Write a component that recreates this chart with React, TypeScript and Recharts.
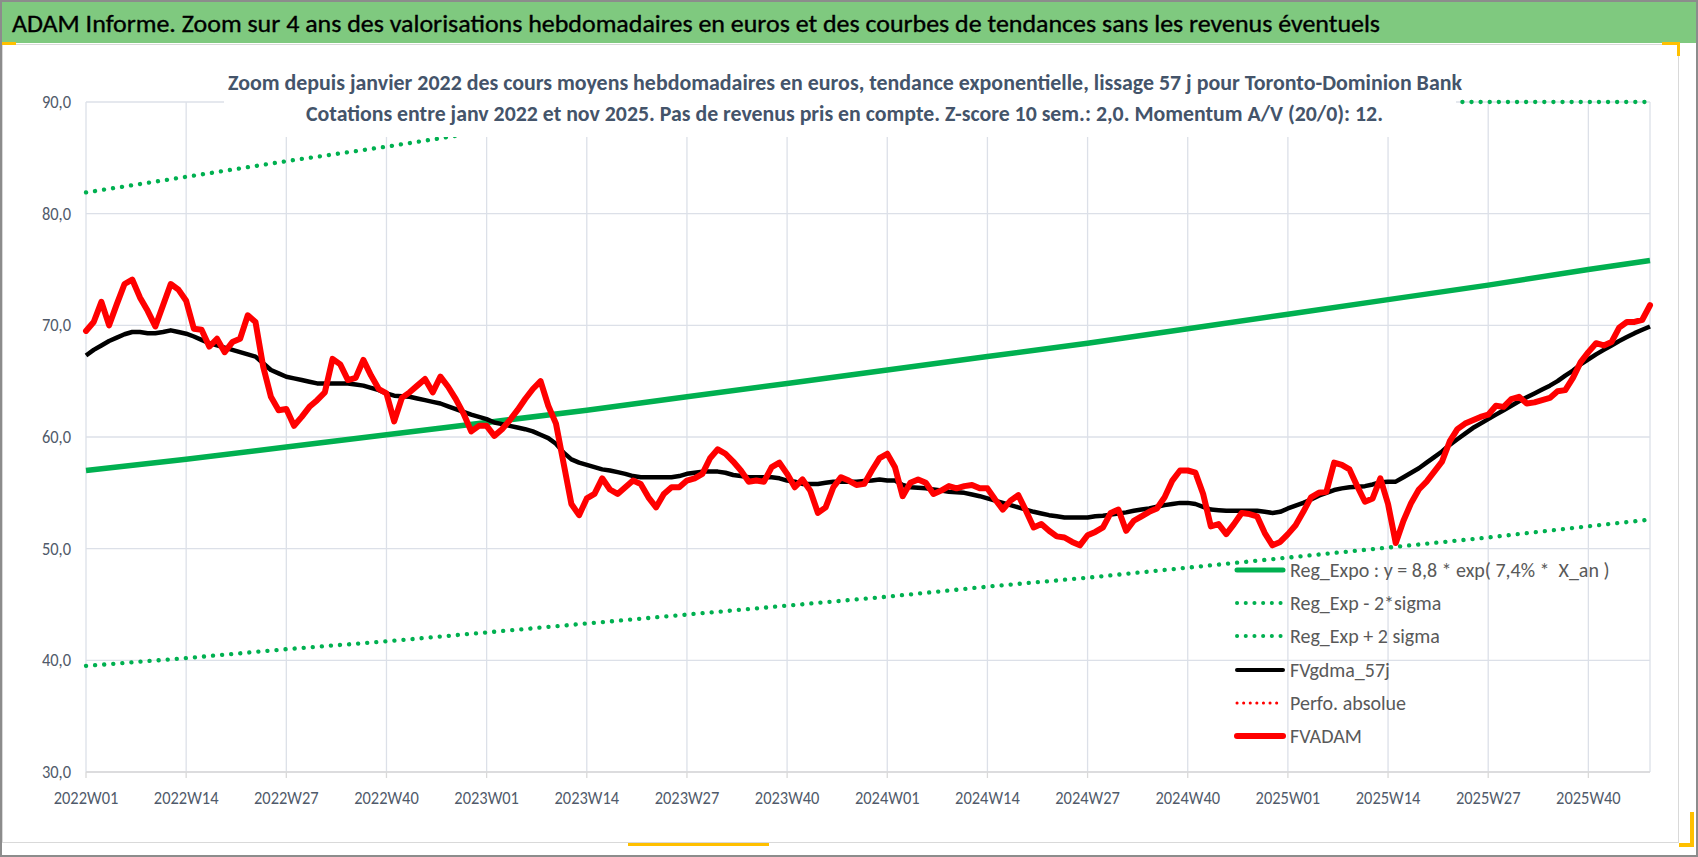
import { LineChart, Line, XAxis, YAxis, CartesianGrid, Legend } from 'recharts';

// weekly categories: 2022W01 .. 2025W48
const years = [2022, 2023, 2024, 2025];
const weeksInYear = [52, 52, 52, 48];

// FVADAM, weekly average price in euros
const fvadam = [
  69.5, 70.3, 72.1, 70.0, 71.9, 73.7, 74.1, 72.5, 71.3, 69.9,
  71.8, 73.7, 73.2, 72.2, 69.7, 69.6, 68.1, 68.8, 67.6, 68.5,
  68.8, 70.9, 70.3, 66.3, 63.6, 62.4, 62.5, 61.0, 61.8, 62.7,
  63.3, 64.0, 67.0, 66.5, 65.1, 65.3, 66.9, 65.5, 64.3, 63.9,
  61.4, 63.5, 64.0, 64.6, 65.2, 64.0, 65.4, 64.5, 63.4, 62.1,
  60.5, 61.0, 61.0, 60.1, 60.7, 61.5, 62.4, 63.4, 64.3, 65.0,
  62.8, 61.2, 57.6, 54.0, 53.0, 54.5, 54.9, 56.3, 55.3, 54.9,
  55.5, 56.1, 55.8, 54.6, 53.7, 54.9, 55.5, 55.5, 56.1, 56.3,
  56.7, 58.1, 58.9, 58.5, 57.8, 57.0, 56.0, 56.1, 56.0, 57.3,
  57.7, 56.7, 55.5, 56.2, 55.2, 53.2, 53.7, 55.5, 56.4, 56.1,
  55.7, 55.8, 57.0, 58.1, 58.5, 57.3, 54.7, 55.9, 56.2, 55.9,
  54.9, 55.2, 55.6, 55.4, 55.6, 55.7, 55.4, 55.4, 54.4, 53.5,
  54.3, 54.8, 53.4, 51.9, 52.2, 51.6, 51.1, 51.0, 50.6, 50.3,
  51.2, 51.5, 51.9, 53.2, 53.5, 51.6, 52.5, 52.9, 53.3, 53.6,
  54.6, 56.1, 57.0, 57.0, 56.8, 54.9, 52.0, 52.2, 51.3, 52.2,
  53.2, 53.1, 52.9, 51.4, 50.3, 50.6, 51.3, 52.1, 53.3, 54.6,
  55.0, 55.1, 57.7, 57.5, 57.1, 55.6, 54.2, 54.5, 56.3, 54.0,
  50.5, 52.5, 54.1, 55.3, 56.0, 56.9, 57.8, 59.6, 60.7, 61.2,
  61.5, 61.8, 62.0, 62.8, 62.7, 63.4, 63.6, 63.0, 63.1, 63.3,
  63.5, 64.1, 64.2, 65.3, 66.7, 67.6, 68.4, 68.2, 68.5, 69.8,
  70.3, 70.3, 70.5, 71.8,
];

// FVgdma_57j, 57-day smoothing
const fvgdma57 = [
  67.3, 67.8, 68.2, 68.6, 68.9, 69.2, 69.4, 69.4, 69.3, 69.3,
  69.4, 69.55, 69.4, 69.25, 69.0, 68.7, 68.4, 68.2, 68.0, 67.8,
  67.6, 67.4, 67.2, 66.6, 66.0, 65.7, 65.4, 65.25, 65.1, 64.95,
  64.8, 64.8, 64.8, 64.8, 64.8, 64.7, 64.6, 64.4, 64.2, 63.9,
  63.7, 63.65, 63.6, 63.45, 63.3, 63.15, 63.0, 62.75, 62.5, 62.25,
  62.0, 61.8, 61.6, 61.3, 61.15, 61.0, 60.85, 60.7, 60.5, 60.2,
  59.9, 59.4, 58.6, 58.0, 57.7, 57.5, 57.3, 57.1, 57.0, 56.85,
  56.7, 56.5, 56.4, 56.4, 56.4, 56.4, 56.4, 56.5, 56.7, 56.8,
  56.9, 56.9, 56.9, 56.8, 56.6, 56.5, 56.4, 56.4, 56.4, 56.4,
  56.3, 56.1, 56.0, 55.8, 55.8, 55.8, 55.9, 56.0, 56.0, 56.0,
  56.0, 56.05, 56.1, 56.2, 56.1, 56.1, 55.7, 55.5, 55.45, 55.4,
  55.3, 55.2, 55.1, 55.05, 55.0, 54.85, 54.7, 54.5, 54.3, 54.1,
  53.9, 53.7, 53.5, 53.3, 53.15, 53.0, 52.9, 52.8, 52.8, 52.8,
  52.8, 52.9, 52.95, 53.05, 53.15, 53.25, 53.4, 53.5, 53.6, 53.75,
  53.9, 54.0, 54.1, 54.1, 54.0, 53.75, 53.5, 53.45, 53.4, 53.4,
  53.4, 53.4, 53.4, 53.3, 53.2, 53.3, 53.6, 53.85, 54.1, 54.4,
  54.75, 55.0, 55.25, 55.4, 55.5, 55.55, 55.6, 55.75, 55.95, 56.0,
  56.0, 56.4, 56.8, 57.2, 57.7, 58.2, 58.7, 59.3, 59.8, 60.3,
  60.8, 61.2, 61.6, 62.0, 62.4, 62.8, 63.2, 63.55, 63.9, 64.25,
  64.6, 65.0, 65.5, 65.95, 66.5, 66.95, 67.4, 67.8, 68.2, 68.6,
  68.95, 69.3, 69.6, 69.9,
];

// trend lines read at every 13th week (+ last week)
const trendWeekIndex = [0, 13, 26, 39, 52, 65, 78, 91, 104, 117, 130, 143, 156, 169, 182, 195, 203];
const regExpo = [57.0, 58.0, 59.1, 60.2, 61.3, 62.4, 63.6, 64.8, 66.0, 67.2, 68.4, 69.7, 71.0, 72.3, 73.6, 75.0, 75.8];
const regLow = [39.5, 40.2, 41.0, 41.7, 42.5, 43.3, 44.1, 44.9, 45.7, 46.6, 47.4, 48.3, 49.2, 50.1, 51.0, 52.0, 52.6];
const regHigh = [81.9, 83.3, 84.7, 86.0, 87.4, 88.9, 90, 90, 90, 90, 90, 90, 90, 90, 90, 90, 90];

const yTicks = [30, 40, 50, 60, 70, 80, 90];

const weeks = years.flatMap((y, k) =>
  Array.from({ length: weeksInYear[k] }, (_, w) => `${y}W${String(w + 1).padStart(2, '0')}`)
);

const data = weeks.map((week, i) => {
  const t = trendWeekIndex.indexOf(i);
  return {
    week,
    regExpo: t >= 0 ? regExpo[t] : null,
    regLow: t >= 0 ? regLow[t] : null,
    regHigh: t >= 0 ? regHigh[t] : null,
    fvgdma: fvgdma57[i],
    fvadam: fvadam[i],
  };
});

const GREEN = '#00B050';
const RED = '#FF0000';
const TICK = '#505A6A';
const FONT = "Carlito, Calibri, Lato, 'Open Sans', sans-serif";

const legendItems = [
  { label: 'Reg_Expo : y = 8,8 * exp( 7,4% *  X_an )', color: GREEN, width: 5, dash: undefined },
  { label: 'Reg_Exp - 2*sigma', color: GREEN, width: 4, dash: '0.1 8.6' },
  { label: 'Reg_Exp + 2 sigma', color: GREEN, width: 4, dash: '0.1 8.6' },
  { label: 'FVgdma_57j', color: '#000', width: 4, dash: undefined },
  { label: 'Perfo. absolue', color: RED, width: 3, dash: '0.1 6.5' },
  { label: 'FVADAM', color: RED, width: 6, dash: undefined },
];

function LegendBox() {
  return (
    <div style={{ fontFamily: FONT, fontSize: 20, color: '#595959' }}>
      {legendItems.map((it) => (
        <div key={it.label} style={{ display: 'flex', alignItems: 'center', height: 33.3, whiteSpace: 'pre' }}>
          <svg width={54} height={12} style={{ marginRight: 2 }}>
            <line x1={3} y1={6} x2={49} y2={6} stroke={it.color} strokeWidth={it.width}
              strokeDasharray={it.dash} strokeLinecap="round" />
          </svg>
          <span>{it.label}</span>
        </div>
      ))}
    </div>
  );
}

// narrow, tall tick text like the Excel original
function WeekTick(props: any) {
  const { x, y, payload } = props;
  return (
    <g transform={`translate(${x},${y})`}>
      <text x={0} y={0} dy={24} textAnchor="middle" fill={TICK} fontSize={17.5} fontFamily={FONT} transform="scale(0.94,1)">
        {payload.value}
      </text>
    </g>
  );
}

function ValueTick(props: any) {
  const { x, y, payload } = props;
  return (
    <g transform={`translate(${x},${y})`}>
      <text x={0} y={0} dy={6} textAnchor="end" fill={TICK} fontSize={17.5} fontFamily={FONT} transform="scale(0.94,1)">
        {payload.value.toFixed(1).replace('.', ',')}
      </text>
    </g>
  );
}

export default function App() {
  return (
    <div style={{ position: 'absolute', left: 0, top: 0, width: 1698, height: 857, background: '#fff', overflow: 'hidden' }}>
      {/* frame and Excel-like chart area */}
      <div style={{ position: 'absolute', left: 0, top: 0, width: 1698, height: 857, border: '2px solid #8C8C8C', boxSizing: 'border-box' }} />
      <div style={{ position: 'absolute', left: 2, top: 44, width: 1677, height: 799, border: '1px solid #D9D9D9', boxSizing: 'border-box' }} />
      <div style={{ position: 'absolute', left: 2, top: 2, width: 1694, height: 41, background: '#7FC97F' }} />
      <svg style={{ position: 'absolute', left: 0, top: 0 }} width={1698} height={45}>
        <text x={12} y={32} fontSize={24} fontFamily={FONT} fill="#000" stroke="#000" strokeWidth={0.35} textLength={1368} lengthAdjust="spacingAndGlyphs">
          ADAM Informe. Zoom sur 4 ans des valorisations hebdomadaires en euros et des courbes de tendances sans les revenus éventuels
        </text>
      </svg>
      <div style={{ position: 'absolute', left: 2, top: 42, width: 14, height: 3, background: '#FFC000' }} />
      <div style={{ position: 'absolute', left: 1662, top: 42, width: 18, height: 3, background: '#FFC000' }} />
      <div style={{ position: 'absolute', left: 1677, top: 42, width: 3, height: 14, background: '#FFC000' }} />
      <div style={{ position: 'absolute', left: 628, top: 843, width: 141, height: 3, background: '#FFC000' }} />
      <div style={{ position: 'absolute', left: 1690, top: 812, width: 4, height: 35, background: '#FFC000' }} />
      <div style={{ position: 'absolute', left: 1679, top: 843, width: 15, height: 4, background: '#FFC000' }} />

      <div style={{ position: 'absolute', left: 0, top: 0 }}>
        <LineChart width={1698} height={857} data={data} margin={{ top: 102, right: 48, bottom: 55, left: 26 }}>
          <CartesianGrid stroke="#DCE0E8" strokeWidth={1.3} />
          <XAxis
            dataKey="week"
            interval={12}
            height={30}
            tickSize={6}
            tickMargin={2}
            axisLine={{ stroke: '#D9D9D9', strokeWidth: 1.5 }}
            tickLine={{ stroke: '#D9D9D9', strokeWidth: 1.3 }}
            tick={<WeekTick />}
          />
          <YAxis
            domain={[30, 90]}
            ticks={yTicks}
            width={60}
            axisLine={false}
            tickLine={false}
            tickSize={0}
            tickMargin={15}
            tick={<ValueTick />}
          />
          <Legend
            layout="vertical"
            align="center"
            verticalAlign="middle"
            wrapperStyle={{ left: 1234, top: 553, width: 440 }}
            content={() => <LegendBox />}
          />
          <Line dataKey="regExpo" name="Reg_Expo" stroke={GREEN} strokeWidth={5.5} dot={false} connectNulls isAnimationActive={false} />
          <Line dataKey="regLow" name="Reg_Exp - 2*sigma" stroke={GREEN} strokeWidth={4.3} strokeDasharray="0.1 9" strokeLinecap="round" dot={false} connectNulls isAnimationActive={false} />
          <Line dataKey="regHigh" name="Reg_Exp + 2 sigma" stroke={GREEN} strokeWidth={4.3} strokeDasharray="0.1 9" strokeLinecap="round" dot={false} connectNulls isAnimationActive={false} />
          <Line dataKey="fvgdma" name="FVgdma_57j" stroke="#000" strokeWidth={4.5} strokeLinejoin="round" dot={false} isAnimationActive={false} />
          <Line dataKey="fvadam" name="FVADAM" stroke={RED} strokeWidth={6} strokeLinejoin="round" strokeLinecap="round" dot={false} isAnimationActive={false} />
        </LineChart>
      </div>

      {/* subtitle box, white filled, lies over the top of the plot */}
      <svg style={{ position: 'absolute', left: 224, top: 60, background: '#fff', overflow: 'visible' }} width={1232} height={77}>
        <text x={4} y={30} fontSize={23} fontWeight="bold" fontFamily={FONT} fill="#44546A" textLength={1234} lengthAdjust="spacingAndGlyphs">
          Zoom depuis janvier 2022 des cours moyens hebdomadaires en euros, tendance exponentielle, lissage 57 j pour Toronto-Dominion Bank
        </text>
        <text x={82} y={61} fontSize={23} fontWeight="bold" fontFamily={FONT} fill="#44546A" textLength={1077} lengthAdjust="spacingAndGlyphs">
          Cotations entre janv 2022 et nov 2025. Pas de revenus pris en compte. Z-score 10 sem.: 2,0. Momentum A/V (20/0): 12.
        </text>
      </svg>
    </div>
  );
}
